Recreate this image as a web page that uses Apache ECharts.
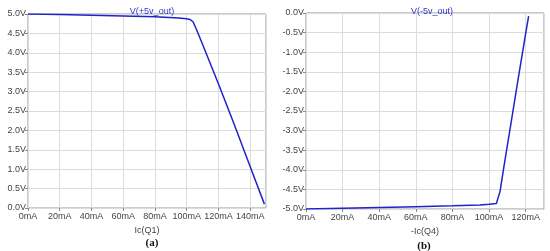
<!DOCTYPE html>
<html>
<head>
<meta charset="utf-8">
<script src="https://cdn.jsdelivr.net/npm/echarts@6/dist/echarts.min.js"></script>
<style>
  html, body { margin: 0; padding: 0; background: #fff; }
  #chart { width: 550px; height: 251px; }
</style>
</head>
<body>
<div id="chart"></div>
<script>
'use strict';
/* LTspice style output voltage vs load current, two panels */

// panel (a): Ic(Q1) [mA] -> V(+5v_out) [V]
var posCurrent = [0, 20, 40, 60, 80, 95, 100, 102, 104, 106, 110, 120, 130, 140, 149];
var posVoltage = [5.0, 4.99, 4.97, 4.95, 4.93, 4.9, 4.88, 4.86, 4.8, 4.62, 4.22, 3.2, 2.15, 1.07, 0.1];

// panel (b): -Ic(Q4) [mA] -> V(-5v_out) [V]
var negCurrent = [0, 20, 40, 60, 80, 95, 100, 104, 105, 106, 108, 112, 116, 120, 121.6];
var negVoltage = [-5.0, -4.98, -4.96, -4.94, -4.92, -4.9, -4.88, -4.86, -4.82, -4.55, -3.95, -2.8, -1.65, -0.52, -0.08];

function pairs(xs, ys) {
  var out = [];
  for (var i = 0; i < xs.length; i++) out.push([xs[i], ys[i]]);
  return out;
}

var lineColor = '#2222cc';
var txtColor = '#444';
var gridColor = '#dcdcdc';

function xAxisOpt(idx, max, name) {
  return {
    type: 'value', gridIndex: idx, min: 0, max: max, interval: 20,
    position: 'bottom',
    name: name, nameLocation: 'middle', nameGap: 15,
    nameTextStyle: { color: txtColor, fontSize: 9, fontFamily: 'Liberation Sans' },
    axisLine: { show: false, onZero: false },
    axisTick: { show: true, length: 3, inside: false, lineStyle: { color: '#888' } },
    axisLabel: {
      color: txtColor, fontSize: 9, fontFamily: 'Liberation Sans', margin: 4,
      showMaxLabel: false,
      formatter: function (v) { return v + 'mA'; }
    },
    splitLine: { show: true, lineStyle: { color: gridColor, width: 1 } }
  };
}

function yAxisOpt(idx, min, max) {
  return {
    type: 'value', gridIndex: idx, min: min, max: max, interval: 0.5,
    position: 'left',
    axisLine: { show: false, onZero: false },
    axisTick: { show: true, length: 3, lineStyle: { color: '#888' } },
    axisLabel: {
      color: txtColor, fontSize: 9, fontFamily: 'Liberation Sans', margin: 2,
      formatter: function (v) { return v.toFixed(1) + 'V'; }
    },
    splitLine: { show: true, lineStyle: { color: gridColor, width: 1 } }
  };
}

var chart = echarts.init(document.getElementById('chart'));
var opt = {
  animation: false,
  backgroundColor: '#fff',
  title: [
    { text: 'V(+5v_out)', left: 147, top: 2, textAlign: 'center',
      textStyle: { color: '#3333cc', fontSize: 9, fontWeight: 'normal', fontFamily: 'Liberation Sans' } },
    { text: 'V(-5v_out)', left: 427, top: 2, textAlign: 'center',
      textStyle: { color: '#3333cc', fontSize: 9, fontWeight: 'normal', fontFamily: 'Liberation Sans' } },
    { text: '(a)', left: 147, top: 233, textAlign: 'center',
      textStyle: { color: '#111', fontSize: 11, fontWeight: 'bold', fontFamily: 'Liberation Serif' } },
    { text: '(b)', left: 419, top: 236, textAlign: 'center',
      textStyle: { color: '#111', fontSize: 11, fontWeight: 'bold', fontFamily: 'Liberation Serif' } }
  ],
  grid: [
    { left: 28, top: 14, width: 238, height: 194, show: true, borderColor: '#999', borderWidth: 1, backgroundColor: '#fff' },
    { left: 306, top: 13, width: 238, height: 196, show: true, borderColor: '#999', borderWidth: 1, backgroundColor: '#fff' }
  ],
  xAxis: [
    xAxisOpt(0, 150, 'Ic(Q1)'),
    xAxisOpt(1, 130, '-Ic(Q4)')
  ],
  yAxis: [
    yAxisOpt(0, 0, 5),
    yAxisOpt(1, -5, 0)
  ],
  series: [
    { type: 'line', xAxisIndex: 0, yAxisIndex: 0, data: pairs(posCurrent, posVoltage),
      showSymbol: false, smooth: false, lineStyle: { color: lineColor, width: 1.5 } },
    { type: 'line', xAxisIndex: 1, yAxisIndex: 1, data: pairs(negCurrent, negVoltage),
      showSymbol: false, smooth: false, lineStyle: { color: lineColor, width: 1.5 } }
  ]
};
chart.setOption(opt);
</script>
</body>
</html>
